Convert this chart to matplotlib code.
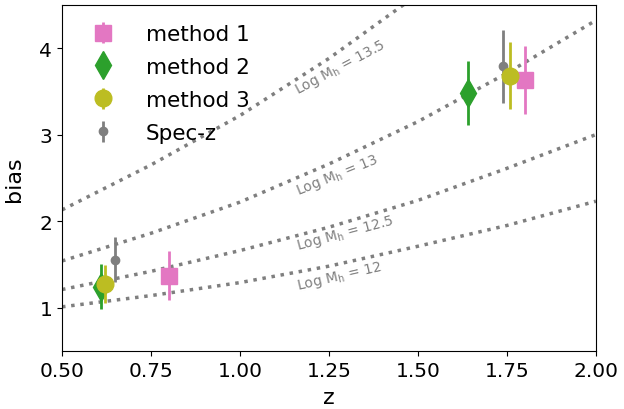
import matplotlib.pyplot as plt

# bias curves for fixed halo mass
z_curve = [0.5, 0.75, 1.0, 1.25, 1.5, 1.75, 2.0]
b_m12 = [1.01, 1.14, 1.29, 1.48, 1.71, 1.95, 2.23]
b_m125 = [1.21, 1.42, 1.66, 1.93, 2.24, 2.61, 3.0]
b_m13 = [1.54, 1.86, 2.22, 2.66, 3.15, 3.71, 4.32]
b_m135 = [2.13, 2.65, 3.22, 3.88, 4.62, 5.4, 6.2]

# measurements
z_m1 = [0.80, 1.80]
b_m1 = [1.37, 3.63]
e_m1 = [0.28, 0.39]

z_m2 = [0.61, 1.64]
b_m2 = [1.24, 3.48]
e_m2 = [0.26, 0.375]

z_m3 = [0.62, 1.76]
b_m3 = [1.27, 3.68]
e_m3 = [0.22, 0.39]

z_spec = [0.65, 1.74]
b_spec = [1.555, 3.79]
e_spec = [0.26, 0.42]

fig, ax = plt.subplots(figsize=(6.24, 4.1), dpi=100)
plt.subplots_adjust(left=0.0994, right=0.955, bottom=0.1415, top=0.986)

for b in [b_m12, b_m125, b_m13, b_m135]:
    ax.plot(z_curve, b, ':', color='#7f7f7f', lw=2.5, zorder=1)

labels = [("Log M$_\\mathrm{h}$ = 13.5", 3.47, 28),
          ("Log M$_\\mathrm{h}$ = 13", 2.31, 22),
          ("Log M$_\\mathrm{h}$ = 12.5", 1.68, 15),
          ("Log M$_\\mathrm{h}$ = 12", 1.22, 13)]
for txt, yy, rot in labels:
    ax.text(1.163, yy, txt, color='#7f7f7f', fontsize=10, rotation=rot,
            rotation_mode='anchor', ha='left', va='baseline')

h4 = ax.errorbar(z_spec, b_spec, yerr=e_spec, fmt='o', color='#7f7f7f',
                 ms=6, elinewidth=2, zorder=3, label='Spec-z')
h1 = ax.errorbar(z_m1, b_m1, yerr=e_m1, fmt='s', color='#e377c2',
                 ms=12, elinewidth=2, zorder=2, label='method 1')
h2 = ax.errorbar(z_m2, b_m2, yerr=e_m2, fmt='d', color='#2ca02c',
                 ms=14, elinewidth=2, zorder=2, label='method 2')
h3 = ax.errorbar(z_m3, b_m3, yerr=e_m3, fmt='o', color='#bcbd22',
                 ms=12, elinewidth=2, zorder=4, label='method 3')

ax.legend(handles=[h1, h2, h3, h4], loc='upper left', frameon=False,
          fontsize=15.5, labelspacing=0.6, handletextpad=1.0)

ax.set_xlim(0.5, 2.0)
ax.set_ylim(0.5, 4.5)
ax.set_xticks([0.5, 0.75, 1.0, 1.25, 1.5, 1.75, 2.0])
ax.set_yticks([1, 2, 3, 4])
ax.tick_params(labelsize=14.5)
ax.set_xlabel('z', fontsize=16, labelpad=5)
ax.set_ylabel('bias', fontsize=16, labelpad=11)

plt.savefig('out.png')
